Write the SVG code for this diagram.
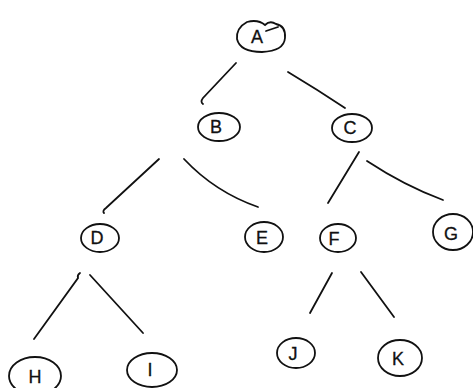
<svg xmlns="http://www.w3.org/2000/svg" width="473" height="388" viewBox="0 0 473 388">
  <style>
    .ring { fill: none; stroke: #111; stroke-width: 1.8; }
    .edge { fill: none; stroke: #111; stroke-width: 1.8; stroke-linecap: round; }
    .lbl { font-family: "Liberation Sans", Arial, sans-serif; font-size: 18px; fill: #111; stroke: #111; stroke-width: 0.3; text-anchor: middle; dominant-baseline: central; }
  </style>
  <rect width="473" height="388" fill="#fff"/>

  <g id="connectors">
    <path class="edge" d="M236 63 L203 98 Q200 102 203 104"/>
    <path class="edge" d="M288 72 Q318 90 345 108"/>
    <path class="edge" d="M159 159 L106 208 Q102 211 104 213"/>
    <path class="edge" d="M184 159 Q215 192 258 207"/>
    <path class="edge" d="M359 152 L328 203"/>
    <path class="edge" d="M367 161 Q405 186 443 200"/>
    <path class="edge" d="M80 273 Q77 275 78 278 L34 339"/>
    <path class="edge" d="M90 275 L143 333"/>
    <path class="edge" d="M332 273 L310 313"/>
    <path class="edge" d="M361 272 L394 317"/>
  </g>

  <g id="node-A">
    <path class="ring" d="M247 22 Q236 28 237 39 Q240 52 262 52 Q284 51 285 38 Q286 26 276 24 Q270 20 265 25 Q258 19 247 22 Z"/>
    <path class="edge" d="M266 31 L278 27" stroke-width="1.2"/>
    <text class="lbl" x="257" y="37">A</text>
  </g>
  <g id="node-B">
    <ellipse class="ring" cx="219" cy="127" rx="21" ry="14"/>
    <text class="lbl" x="216" y="127">B</text>
  </g>
  <g id="node-C">
    <ellipse class="ring" cx="352" cy="128" rx="20" ry="14"/>
    <text class="lbl" x="350" y="128">C</text>
  </g>
  <g id="node-D">
    <ellipse class="ring" cx="100" cy="238" rx="19" ry="14"/>
    <text class="lbl" x="97" y="238">D</text>
  </g>
  <g id="node-E">
    <ellipse class="ring" cx="264" cy="237" rx="19" ry="15"/>
    <text class="lbl" x="262" y="238">E</text>
  </g>
  <g id="node-F">
    <ellipse class="ring" cx="338" cy="238" rx="18" ry="14"/>
    <text class="lbl" x="334" y="239">F</text>
  </g>
  <g id="node-G">
    <ellipse class="ring" cx="453" cy="232" rx="20" ry="18"/>
    <text class="lbl" x="451" y="234">G</text>
  </g>
  <g id="node-H">
    <ellipse class="ring" cx="35" cy="376" rx="26" ry="19"/>
    <text class="lbl" x="35" y="377">H</text>
  </g>
  <g id="node-I">
    <ellipse class="ring" cx="152" cy="370" rx="25" ry="17"/>
    <text class="lbl" x="150" y="370">I</text>
  </g>
  <g id="node-J">
    <ellipse class="ring" cx="296" cy="353" rx="19" ry="15"/>
    <text class="lbl" x="293" y="354">J</text>
  </g>
  <g id="node-K">
    <ellipse class="ring" cx="400" cy="358" rx="22" ry="18"/>
    <text class="lbl" x="398" y="359">K</text>
  </g>
</svg>
